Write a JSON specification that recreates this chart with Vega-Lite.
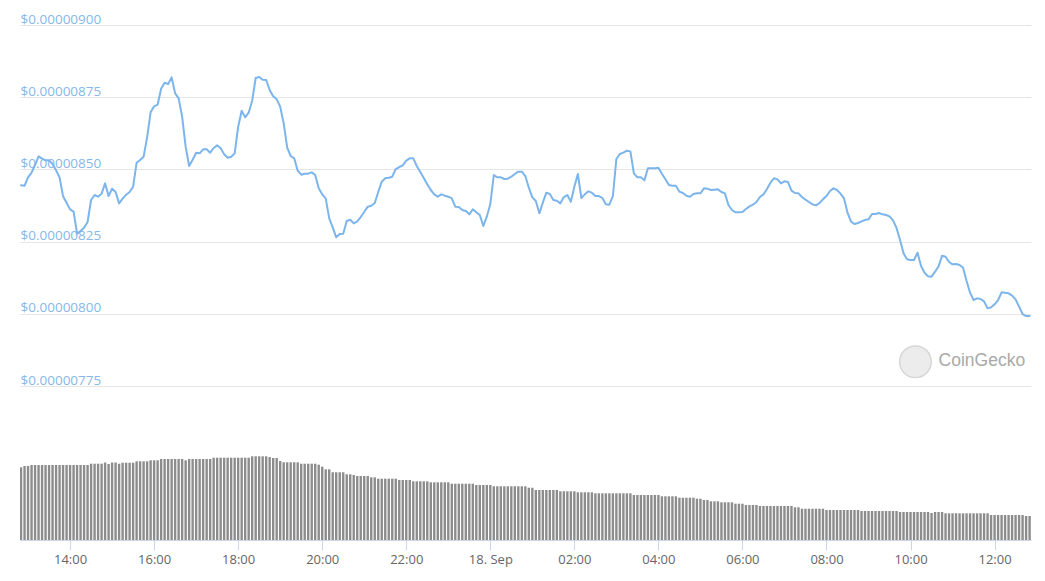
{
"$schema":"https://vega.github.io/schema/vega-lite/v6.json",
"width":1011,"height":540,
"autosize":"none",
"padding":{"left":20,"top":0,"right":14,"bottom":41},
"background":"white",
"config":{"view":{"stroke":null},"font":"Open Sans","scale":{"continuousPadding":0}},
"data":{"values":[
{"time":"2021-09-17T12:50Z","price":8.4448e-6,"volume":72.7},
{"time":"2021-09-17T12:55Z","price":8.4437e-6,"volume":74},
{"time":"2021-09-17T13:00Z","price":8.4725e-6,"volume":74},
{"time":"2021-09-17T13:05Z","price":8.4887e-6,"volume":75},
{"time":"2021-09-17T13:10Z","price":8.5152e-6,"volume":75},
{"time":"2021-09-17T13:15Z","price":8.5452e-6,"volume":75},
{"time":"2021-09-17T13:20Z","price":8.5372e-6,"volume":75},
{"time":"2021-09-17T13:25Z","price":8.5314e-6,"volume":75},
{"time":"2021-09-17T13:30Z","price":8.5314e-6,"volume":75},
{"time":"2021-09-17T13:35Z","price":8.5187e-6,"volume":75},
{"time":"2021-09-17T13:40Z","price":8.4968e-6,"volume":75},
{"time":"2021-09-17T13:45Z","price":8.4725e-6,"volume":75},
{"time":"2021-09-17T13:50Z","price":8.4067e-6,"volume":75},
{"time":"2021-09-17T13:55Z","price":8.3848e-6,"volume":75},
{"time":"2021-09-17T14:00Z","price":8.3617e-6,"volume":75},
{"time":"2021-09-17T14:05Z","price":8.3536e-6,"volume":75},
{"time":"2021-09-17T14:10Z","price":8.2775e-6,"volume":75},
{"time":"2021-09-17T14:15Z","price":8.2867e-6,"volume":75},
{"time":"2021-09-17T14:20Z","price":8.2982e-6,"volume":75},
{"time":"2021-09-17T14:25Z","price":8.3179e-6,"volume":75},
{"time":"2021-09-17T14:30Z","price":8.394e-6,"volume":76.3},
{"time":"2021-09-17T14:35Z","price":8.4113e-6,"volume":76.3},
{"time":"2021-09-17T14:40Z","price":8.4056e-6,"volume":76.3},
{"time":"2021-09-17T14:45Z","price":8.416e-6,"volume":76.3},
{"time":"2021-09-17T14:50Z","price":8.4517e-6,"volume":77.5},
{"time":"2021-09-17T14:55Z","price":8.4079e-6,"volume":76},
{"time":"2021-09-17T15:00Z","price":8.4333e-6,"volume":77.5},
{"time":"2021-09-17T15:05Z","price":8.4217e-6,"volume":77.5},
{"time":"2021-09-17T15:10Z","price":8.3825e-6,"volume":76.3},
{"time":"2021-09-17T15:15Z","price":8.3987e-6,"volume":77.3},
{"time":"2021-09-17T15:20Z","price":8.4125e-6,"volume":77.3},
{"time":"2021-09-17T15:25Z","price":8.4217e-6,"volume":77.3},
{"time":"2021-09-17T15:30Z","price":8.4402e-6,"volume":77.3},
{"time":"2021-09-17T15:35Z","price":8.5233e-6,"volume":78.7},
{"time":"2021-09-17T15:40Z","price":8.5325e-6,"volume":78.7},
{"time":"2021-09-17T15:45Z","price":8.5441e-6,"volume":78.7},
{"time":"2021-09-17T15:50Z","price":8.611e-6,"volume":78.7},
{"time":"2021-09-17T15:55Z","price":8.6976e-6,"volume":79.7},
{"time":"2021-09-17T16:00Z","price":8.7184e-6,"volume":79.7},
{"time":"2021-09-17T16:05Z","price":8.7241e-6,"volume":79.7},
{"time":"2021-09-17T16:10Z","price":8.7795e-6,"volume":81},
{"time":"2021-09-17T16:15Z","price":8.8003e-6,"volume":81},
{"time":"2021-09-17T16:20Z","price":8.7957e-6,"volume":81},
{"time":"2021-09-17T16:25Z","price":8.8188e-6,"volume":81},
{"time":"2021-09-17T16:30Z","price":8.7634e-6,"volume":81},
{"time":"2021-09-17T16:35Z","price":8.7461e-6,"volume":81},
{"time":"2021-09-17T16:40Z","price":8.6826e-6,"volume":81},
{"time":"2021-09-17T16:45Z","price":8.5787e-6,"volume":79.7},
{"time":"2021-09-17T16:50Z","price":8.5118e-6,"volume":81},
{"time":"2021-09-17T16:55Z","price":8.5337e-6,"volume":81},
{"time":"2021-09-17T17:00Z","price":8.5579e-6,"volume":81},
{"time":"2021-09-17T17:05Z","price":8.5556e-6,"volume":81},
{"time":"2021-09-17T17:10Z","price":8.5695e-6,"volume":81},
{"time":"2021-09-17T17:15Z","price":8.5695e-6,"volume":81},
{"time":"2021-09-17T17:20Z","price":8.5579e-6,"volume":81},
{"time":"2021-09-17T17:25Z","price":8.5741e-6,"volume":82.3},
{"time":"2021-09-17T17:30Z","price":8.5833e-6,"volume":82.3},
{"time":"2021-09-17T17:35Z","price":8.5729e-6,"volume":82.3},
{"time":"2021-09-17T17:40Z","price":8.5522e-6,"volume":82.3},
{"time":"2021-09-17T17:45Z","price":8.5406e-6,"volume":82.3},
{"time":"2021-09-17T17:50Z","price":8.5441e-6,"volume":82.3},
{"time":"2021-09-17T17:55Z","price":8.5556e-6,"volume":82.3},
{"time":"2021-09-17T18:00Z","price":8.648e-6,"volume":82.3},
{"time":"2021-09-17T18:05Z","price":8.7034e-6,"volume":82.3},
{"time":"2021-09-17T18:10Z","price":8.6803e-6,"volume":82.3},
{"time":"2021-09-17T18:15Z","price":8.6964e-6,"volume":82.3},
{"time":"2021-09-17T18:20Z","price":8.738e-6,"volume":83.7},
{"time":"2021-09-17T18:25Z","price":8.8165e-6,"volume":83.7},
{"time":"2021-09-17T18:30Z","price":8.8199e-6,"volume":83.7},
{"time":"2021-09-17T18:35Z","price":8.8107e-6,"volume":83.7},
{"time":"2021-09-17T18:40Z","price":8.8095e-6,"volume":83.7},
{"time":"2021-09-17T18:45Z","price":8.7749e-6,"volume":83},
{"time":"2021-09-17T18:50Z","price":8.753e-6,"volume":82},
{"time":"2021-09-17T18:55Z","price":8.7426e-6,"volume":82},
{"time":"2021-09-17T19:00Z","price":8.7172e-6,"volume":79},
{"time":"2021-09-17T19:05Z","price":8.6595e-6,"volume":77.7},
{"time":"2021-09-17T19:10Z","price":8.5752e-6,"volume":77.7},
{"time":"2021-09-17T19:15Z","price":8.5464e-6,"volume":77.7},
{"time":"2021-09-17T19:20Z","price":8.5383e-6,"volume":77.7},
{"time":"2021-09-17T19:25Z","price":8.4956e-6,"volume":77.7},
{"time":"2021-09-17T19:30Z","price":8.4818e-6,"volume":76.3},
{"time":"2021-09-17T19:35Z","price":8.4852e-6,"volume":76.3},
{"time":"2021-09-17T19:40Z","price":8.4852e-6,"volume":76.3},
{"time":"2021-09-17T19:45Z","price":8.4898e-6,"volume":76.3},
{"time":"2021-09-17T19:50Z","price":8.4806e-6,"volume":76.3},
{"time":"2021-09-17T19:55Z","price":8.4344e-6,"volume":75.3},
{"time":"2021-09-17T20:00Z","price":8.4137e-6,"volume":73.3},
{"time":"2021-09-17T20:05Z","price":8.3998e-6,"volume":70.7},
{"time":"2021-09-17T20:10Z","price":8.3306e-6,"volume":70.7},
{"time":"2021-09-17T20:15Z","price":8.2994e-6,"volume":67.7},
{"time":"2021-09-17T20:20Z","price":8.2648e-6,"volume":67.7},
{"time":"2021-09-17T20:25Z","price":8.2763e-6,"volume":67.7},
{"time":"2021-09-17T20:30Z","price":8.2775e-6,"volume":67.7},
{"time":"2021-09-17T20:35Z","price":8.3213e-6,"volume":65.7},
{"time":"2021-09-17T20:40Z","price":8.3259e-6,"volume":65.7},
{"time":"2021-09-17T20:45Z","price":8.3132e-6,"volume":65},
{"time":"2021-09-17T20:50Z","price":8.3202e-6,"volume":64},
{"time":"2021-09-17T20:55Z","price":8.3352e-6,"volume":64},
{"time":"2021-09-17T21:00Z","price":8.3525e-6,"volume":64},
{"time":"2021-09-17T21:05Z","price":8.371e-6,"volume":64},
{"time":"2021-09-17T21:10Z","price":8.3744e-6,"volume":62.7},
{"time":"2021-09-17T21:15Z","price":8.3836e-6,"volume":62.7},
{"time":"2021-09-17T21:20Z","price":8.4217e-6,"volume":61.3},
{"time":"2021-09-17T21:25Z","price":8.4575e-6,"volume":61.3},
{"time":"2021-09-17T21:30Z","price":8.4691e-6,"volume":61.3},
{"time":"2021-09-17T21:35Z","price":8.4714e-6,"volume":61.3},
{"time":"2021-09-17T21:40Z","price":8.4748e-6,"volume":61.3},
{"time":"2021-09-17T21:45Z","price":8.5014e-6,"volume":61.3},
{"time":"2021-09-17T21:50Z","price":8.5083e-6,"volume":60},
{"time":"2021-09-17T21:55Z","price":8.5141e-6,"volume":60},
{"time":"2021-09-17T22:00Z","price":8.5302e-6,"volume":60},
{"time":"2021-09-17T22:05Z","price":8.5383e-6,"volume":60},
{"time":"2021-09-17T22:10Z","price":8.5383e-6,"volume":58.7},
{"time":"2021-09-17T22:15Z","price":8.5118e-6,"volume":58.7},
{"time":"2021-09-17T22:20Z","price":8.491e-6,"volume":58.7},
{"time":"2021-09-17T22:25Z","price":8.4702e-6,"volume":58.7},
{"time":"2021-09-17T22:30Z","price":8.4483e-6,"volume":58.7},
{"time":"2021-09-17T22:35Z","price":8.4287e-6,"volume":57.7},
{"time":"2021-09-17T22:40Z","price":8.4137e-6,"volume":57.7},
{"time":"2021-09-17T22:45Z","price":8.4056e-6,"volume":57.7},
{"time":"2021-09-17T22:50Z","price":8.4137e-6,"volume":57.7},
{"time":"2021-09-17T22:55Z","price":8.409e-6,"volume":57.7},
{"time":"2021-09-17T23:00Z","price":8.4056e-6,"volume":57.7},
{"time":"2021-09-17T23:05Z","price":8.3998e-6,"volume":56.3},
{"time":"2021-09-17T23:10Z","price":8.371e-6,"volume":56.3},
{"time":"2021-09-17T23:15Z","price":8.3698e-6,"volume":56.3},
{"time":"2021-09-17T23:20Z","price":8.3594e-6,"volume":56.3},
{"time":"2021-09-17T23:25Z","price":8.3559e-6,"volume":56.3},
{"time":"2021-09-17T23:30Z","price":8.3444e-6,"volume":56.3},
{"time":"2021-09-17T23:35Z","price":8.3617e-6,"volume":56.3},
{"time":"2021-09-17T23:40Z","price":8.3513e-6,"volume":55},
{"time":"2021-09-17T23:45Z","price":8.3421e-6,"volume":55},
{"time":"2021-09-17T23:50Z","price":8.304e-6,"volume":55},
{"time":"2021-09-17T23:55Z","price":8.3363e-6,"volume":55},
{"time":"2021-09-18T00:00Z","price":8.3802e-6,"volume":55},
{"time":"2021-09-18T00:05Z","price":8.4806e-6,"volume":53.7},
{"time":"2021-09-18T00:10Z","price":8.4725e-6,"volume":53.7},
{"time":"2021-09-18T00:15Z","price":8.4725e-6,"volume":53.7},
{"time":"2021-09-18T00:20Z","price":8.4668e-6,"volume":53.7},
{"time":"2021-09-18T00:25Z","price":8.4679e-6,"volume":53.7},
{"time":"2021-09-18T00:30Z","price":8.4748e-6,"volume":53.7},
{"time":"2021-09-18T00:35Z","price":8.4841e-6,"volume":53.7},
{"time":"2021-09-18T00:40Z","price":8.4921e-6,"volume":53.7},
{"time":"2021-09-18T00:45Z","price":8.4921e-6,"volume":53.7},
{"time":"2021-09-18T00:50Z","price":8.4771e-6,"volume":53.7},
{"time":"2021-09-18T00:55Z","price":8.4367e-6,"volume":52.3},
{"time":"2021-09-18T01:00Z","price":8.4033e-6,"volume":52.3},
{"time":"2021-09-18T01:05Z","price":8.3906e-6,"volume":50},
{"time":"2021-09-18T01:10Z","price":8.3479e-6,"volume":50},
{"time":"2021-09-18T01:15Z","price":8.3848e-6,"volume":50},
{"time":"2021-09-18T01:20Z","price":8.4194e-6,"volume":50},
{"time":"2021-09-18T01:25Z","price":8.4148e-6,"volume":50},
{"time":"2021-09-18T01:30Z","price":8.394e-6,"volume":50},
{"time":"2021-09-18T01:35Z","price":8.3917e-6,"volume":50},
{"time":"2021-09-18T01:40Z","price":8.3825e-6,"volume":48.7},
{"time":"2021-09-18T01:45Z","price":8.4044e-6,"volume":48.7},
{"time":"2021-09-18T01:50Z","price":8.4113e-6,"volume":48.7},
{"time":"2021-09-18T01:55Z","price":8.3883e-6,"volume":48.7},
{"time":"2021-09-18T02:00Z","price":8.4402e-6,"volume":48.7},
{"time":"2021-09-18T02:05Z","price":8.4841e-6,"volume":47.7},
{"time":"2021-09-18T02:10Z","price":8.401e-6,"volume":47.7},
{"time":"2021-09-18T02:15Z","price":8.4137e-6,"volume":47.7},
{"time":"2021-09-18T02:20Z","price":8.424e-6,"volume":47.7},
{"time":"2021-09-18T02:25Z","price":8.4194e-6,"volume":47.7},
{"time":"2021-09-18T02:30Z","price":8.4079e-6,"volume":46.7},
{"time":"2021-09-18T02:35Z","price":8.4079e-6,"volume":46.7},
{"time":"2021-09-18T02:40Z","price":8.401e-6,"volume":46.7},
{"time":"2021-09-18T02:45Z","price":8.379e-6,"volume":46.7},
{"time":"2021-09-18T02:50Z","price":8.3779e-6,"volume":46.7},
{"time":"2021-09-18T02:55Z","price":8.4079e-6,"volume":46.7},
{"time":"2021-09-18T03:00Z","price":8.536e-6,"volume":46.7},
{"time":"2021-09-18T03:05Z","price":8.5533e-6,"volume":46.7},
{"time":"2021-09-18T03:10Z","price":8.5579e-6,"volume":46.7},
{"time":"2021-09-18T03:15Z","price":8.5649e-6,"volume":46.7},
{"time":"2021-09-18T03:20Z","price":8.5625e-6,"volume":46.7},
{"time":"2021-09-18T03:25Z","price":8.4864e-6,"volume":45},
{"time":"2021-09-18T03:30Z","price":8.4725e-6,"volume":45},
{"time":"2021-09-18T03:35Z","price":8.4725e-6,"volume":45},
{"time":"2021-09-18T03:40Z","price":8.4621e-6,"volume":45},
{"time":"2021-09-18T03:45Z","price":8.5037e-6,"volume":45},
{"time":"2021-09-18T03:50Z","price":8.5037e-6,"volume":45},
{"time":"2021-09-18T03:55Z","price":8.5037e-6,"volume":45},
{"time":"2021-09-18T04:00Z","price":8.506e-6,"volume":45},
{"time":"2021-09-18T04:05Z","price":8.4852e-6,"volume":43.7},
{"time":"2021-09-18T04:10Z","price":8.4656e-6,"volume":43.7},
{"time":"2021-09-18T04:15Z","price":8.446e-6,"volume":43.7},
{"time":"2021-09-18T04:20Z","price":8.4437e-6,"volume":43.7},
{"time":"2021-09-18T04:25Z","price":8.4437e-6,"volume":43.7},
{"time":"2021-09-18T04:30Z","price":8.4229e-6,"volume":42.3},
{"time":"2021-09-18T04:35Z","price":8.4183e-6,"volume":42.3},
{"time":"2021-09-18T04:40Z","price":8.409e-6,"volume":42.3},
{"time":"2021-09-18T04:45Z","price":8.4056e-6,"volume":42.3},
{"time":"2021-09-18T04:50Z","price":8.4148e-6,"volume":42.3},
{"time":"2021-09-18T04:55Z","price":8.4171e-6,"volume":41.3},
{"time":"2021-09-18T05:00Z","price":8.4171e-6,"volume":41.3},
{"time":"2021-09-18T05:05Z","price":8.4344e-6,"volume":40},
{"time":"2021-09-18T05:10Z","price":8.4333e-6,"volume":40},
{"time":"2021-09-18T05:15Z","price":8.4287e-6,"volume":38.7},
{"time":"2021-09-18T05:20Z","price":8.4298e-6,"volume":38.7},
{"time":"2021-09-18T05:25Z","price":8.431e-6,"volume":38.7},
{"time":"2021-09-18T05:30Z","price":8.4217e-6,"volume":37.7},
{"time":"2021-09-18T05:35Z","price":8.4171e-6,"volume":37.7},
{"time":"2021-09-18T05:40Z","price":8.3767e-6,"volume":37.7},
{"time":"2021-09-18T05:45Z","price":8.3594e-6,"volume":37.7},
{"time":"2021-09-18T05:50Z","price":8.3513e-6,"volume":36.3},
{"time":"2021-09-18T05:55Z","price":8.3513e-6,"volume":36.3},
{"time":"2021-09-18T06:00Z","price":8.3525e-6,"volume":36.3},
{"time":"2021-09-18T06:05Z","price":8.3629e-6,"volume":35},
{"time":"2021-09-18T06:10Z","price":8.3721e-6,"volume":35},
{"time":"2021-09-18T06:15Z","price":8.3779e-6,"volume":35},
{"time":"2021-09-18T06:20Z","price":8.3871e-6,"volume":35},
{"time":"2021-09-18T06:25Z","price":8.4044e-6,"volume":34},
{"time":"2021-09-18T06:30Z","price":8.4137e-6,"volume":34},
{"time":"2021-09-18T06:35Z","price":8.4321e-6,"volume":34},
{"time":"2021-09-18T06:40Z","price":8.4541e-6,"volume":34},
{"time":"2021-09-18T06:45Z","price":8.4691e-6,"volume":34},
{"time":"2021-09-18T06:50Z","price":8.4656e-6,"volume":34},
{"time":"2021-09-18T06:55Z","price":8.4517e-6,"volume":34},
{"time":"2021-09-18T07:00Z","price":8.4587e-6,"volume":34},
{"time":"2021-09-18T07:05Z","price":8.4564e-6,"volume":34},
{"time":"2021-09-18T07:10Z","price":8.4264e-6,"volume":34},
{"time":"2021-09-18T07:15Z","price":8.4183e-6,"volume":32.7},
{"time":"2021-09-18T07:20Z","price":8.4171e-6,"volume":32.7},
{"time":"2021-09-18T07:25Z","price":8.4044e-6,"volume":31.3},
{"time":"2021-09-18T07:30Z","price":8.3952e-6,"volume":31.3},
{"time":"2021-09-18T07:35Z","price":8.3871e-6,"volume":31.3},
{"time":"2021-09-18T07:40Z","price":8.379e-6,"volume":31.3},
{"time":"2021-09-18T07:45Z","price":8.3756e-6,"volume":31.3},
{"time":"2021-09-18T07:50Z","price":8.3836e-6,"volume":31.3},
{"time":"2021-09-18T07:55Z","price":8.3964e-6,"volume":31.3},
{"time":"2021-09-18T08:00Z","price":8.4079e-6,"volume":30},
{"time":"2021-09-18T08:05Z","price":8.4252e-6,"volume":30},
{"time":"2021-09-18T08:10Z","price":8.4344e-6,"volume":30},
{"time":"2021-09-18T08:15Z","price":8.4287e-6,"volume":30},
{"time":"2021-09-18T08:20Z","price":8.416e-6,"volume":30},
{"time":"2021-09-18T08:25Z","price":8.3998e-6,"volume":30},
{"time":"2021-09-18T08:30Z","price":8.3502e-6,"volume":30},
{"time":"2021-09-18T08:35Z","price":8.319e-6,"volume":30},
{"time":"2021-09-18T08:40Z","price":8.3109e-6,"volume":30},
{"time":"2021-09-18T08:45Z","price":8.3144e-6,"volume":30},
{"time":"2021-09-18T08:50Z","price":8.3202e-6,"volume":29},
{"time":"2021-09-18T08:55Z","price":8.3248e-6,"volume":29},
{"time":"2021-09-18T09:00Z","price":8.3271e-6,"volume":29},
{"time":"2021-09-18T09:05Z","price":8.3456e-6,"volume":29},
{"time":"2021-09-18T09:10Z","price":8.3456e-6,"volume":29},
{"time":"2021-09-18T09:15Z","price":8.349e-6,"volume":29},
{"time":"2021-09-18T09:20Z","price":8.3444e-6,"volume":29},
{"time":"2021-09-18T09:25Z","price":8.3421e-6,"volume":29},
{"time":"2021-09-18T09:30Z","price":8.3375e-6,"volume":29},
{"time":"2021-09-18T09:35Z","price":8.3236e-6,"volume":29},
{"time":"2021-09-18T09:40Z","price":8.2971e-6,"volume":29},
{"time":"2021-09-18T09:45Z","price":8.2555e-6,"volume":28},
{"time":"2021-09-18T09:50Z","price":8.2094e-6,"volume":28},
{"time":"2021-09-18T09:55Z","price":8.1886e-6,"volume":28},
{"time":"2021-09-18T10:00Z","price":8.1863e-6,"volume":28},
{"time":"2021-09-18T10:05Z","price":8.1863e-6,"volume":28},
{"time":"2021-09-18T10:10Z","price":8.2117e-6,"volume":28},
{"time":"2021-09-18T10:15Z","price":8.1655e-6,"volume":28},
{"time":"2021-09-18T10:20Z","price":8.1424e-6,"volume":28},
{"time":"2021-09-18T10:25Z","price":8.1297e-6,"volume":28},
{"time":"2021-09-18T10:30Z","price":8.1286e-6,"volume":27},
{"time":"2021-09-18T10:35Z","price":8.1459e-6,"volume":28},
{"time":"2021-09-18T10:40Z","price":8.1644e-6,"volume":28},
{"time":"2021-09-18T10:45Z","price":8.2013e-6,"volume":28},
{"time":"2021-09-18T10:50Z","price":8.1978e-6,"volume":26.7},
{"time":"2021-09-18T10:55Z","price":8.1794e-6,"volume":26.7},
{"time":"2021-09-18T11:00Z","price":8.1713e-6,"volume":26.7},
{"time":"2021-09-18T11:05Z","price":8.1724e-6,"volume":26.7},
{"time":"2021-09-18T11:10Z","price":8.169e-6,"volume":26.7},
{"time":"2021-09-18T11:15Z","price":8.1597e-6,"volume":26.7},
{"time":"2021-09-18T11:20Z","price":8.1136e-6,"volume":26.7},
{"time":"2021-09-18T11:25Z","price":8.0732e-6,"volume":26.7},
{"time":"2021-09-18T11:30Z","price":8.0478e-6,"volume":26.7},
{"time":"2021-09-18T11:35Z","price":8.0535e-6,"volume":26.7},
{"time":"2021-09-18T11:40Z","price":8.0512e-6,"volume":26.7},
{"time":"2021-09-18T11:45Z","price":8.0432e-6,"volume":26.7},
{"time":"2021-09-18T11:50Z","price":8.0189e-6,"volume":26.7},
{"time":"2021-09-18T11:55Z","price":8.0224e-6,"volume":25},
{"time":"2021-09-18T12:00Z","price":8.0328e-6,"volume":25},
{"time":"2021-09-18T12:05Z","price":8.0478e-6,"volume":25},
{"time":"2021-09-18T12:10Z","price":8.0743e-6,"volume":25},
{"time":"2021-09-18T12:15Z","price":8.0732e-6,"volume":25},
{"time":"2021-09-18T12:20Z","price":8.0709e-6,"volume":25},
{"time":"2021-09-18T12:25Z","price":8.0628e-6,"volume":25},
{"time":"2021-09-18T12:30Z","price":8.0501e-6,"volume":25},
{"time":"2021-09-18T12:35Z","price":8.0247e-6,"volume":25},
{"time":"2021-09-18T12:40Z","price":7.9993e-6,"volume":25},
{"time":"2021-09-18T12:45Z","price":7.9924e-6,"volume":24},
{"time":"2021-09-18T12:50Z","price":7.9924e-6,"volume":24}
]},
"encoding":{
"x":{"field":"time","type":"temporal",
"scale":{"type":"utc","padding":0,"domain":[{"year":2021,"month":9,"date":17,"hours":12,"minutes":48,"seconds":30,"utc":true},{"year":2021,"month":9,"date":18,"hours":12,"minutes":52,"utc":true}]},
"axis":{"title":null,"grid":false,
"values":[{"year":2021,"month":9,"date":17,"hours":14,"utc":true},{"year":2021,"month":9,"date":17,"hours":16,"utc":true},{"year":2021,"month":9,"date":17,"hours":18,"utc":true},{"year":2021,"month":9,"date":17,"hours":20,"utc":true},{"year":2021,"month":9,"date":17,"hours":22,"utc":true},{"year":2021,"month":9,"date":18,"hours":0,"utc":true},{"year":2021,"month":9,"date":18,"hours":2,"utc":true},{"year":2021,"month":9,"date":18,"hours":4,"utc":true},{"year":2021,"month":9,"date":18,"hours":6,"utc":true},{"year":2021,"month":9,"date":18,"hours":8,"utc":true},{"year":2021,"month":9,"date":18,"hours":10,"utc":true},{"year":2021,"month":9,"date":18,"hours":12,"utc":true}],
"labelExpr":"utchours(datum.value)==0 ? utcFormat(datum.value,'%d. %b') : utcFormat(datum.value,'%H:%M')",
"domainColor":"#ccd6eb","domainWidth":1,"tickColor":"#ccd6eb","tickSize":10,"tickWidth":1,
"labelColor":"#666666","labelFontSize":13,"labelFont":"Open Sans","labelPadding":3,"labelFlush":false,"labelOverlap":false}}
},
"layer":[
{"mark":{"type":"bar","color":"#8c8c8c","size":2.4,"clip":true},
 "encoding":{"y":{"field":"volume","type":"quantitative","scale":{"domain":[0,540],"nice":false},"axis":null}}},
{"mark":{"type":"line","color":"#7cb5ec","strokeWidth":2,"strokeJoin":"round","strokeCap":"round"},
 "encoding":{"y":{"field":"price","type":"quantitative",
  "scale":{"domain":[7.2168e-6,9.0866e-6],"nice":false,"zero":false},
  "axis":{"orient":"left","title":null,"values":[7.75e-6,8e-6,8.25e-6,8.5e-6,8.75e-6,9e-6],
   "labelExpr":"'$' + format(datum.value, '.8f')",
   "grid":true,"gridColor":"#e6e6e6","gridWidth":1,"domain":false,"ticks":false,"tickSize":0,
   "labelAlign":"left","labelBaseline":"alphabetic","labelPadding":0,"labelOffset":-2,
   "labelColor":"#86b8ea","labelFontSize":13.5,"labelFont":"Open Sans","labelFlush":false,"labelOverlap":false}}}},
{"data":{"values":[{"time":"2021-09-18T10:07Z","price":7.834e-6}]},
 "mark":{"type":"point","shape":"circle","filled":true,"size":1000,"color":"#ececec","stroke":"#d6d6d6","strokeWidth":1.5,"opacity":1},
 "encoding":{"y":{"field":"price","type":"quantitative","scale":{"domain":[7.2168e-6,9.0866e-6],"nice":false,"zero":false},"axis":null}}},
{"data":{"values":[{"time":"2021-09-18T10:40Z","price":7.837e-6,"label":"CoinGecko"}]},
 "mark":{"type":"text","align":"left","baseline":"middle","font":"Liberation Sans","fontSize":17.5,"color":"#a9a9a9"},
 "encoding":{"text":{"field":"label"},"y":{"field":"price","type":"quantitative","scale":{"domain":[7.2168e-6,9.0866e-6],"nice":false,"zero":false},"axis":null}}}
],
"resolve":{"scale":{"y":"independent"}}
}
